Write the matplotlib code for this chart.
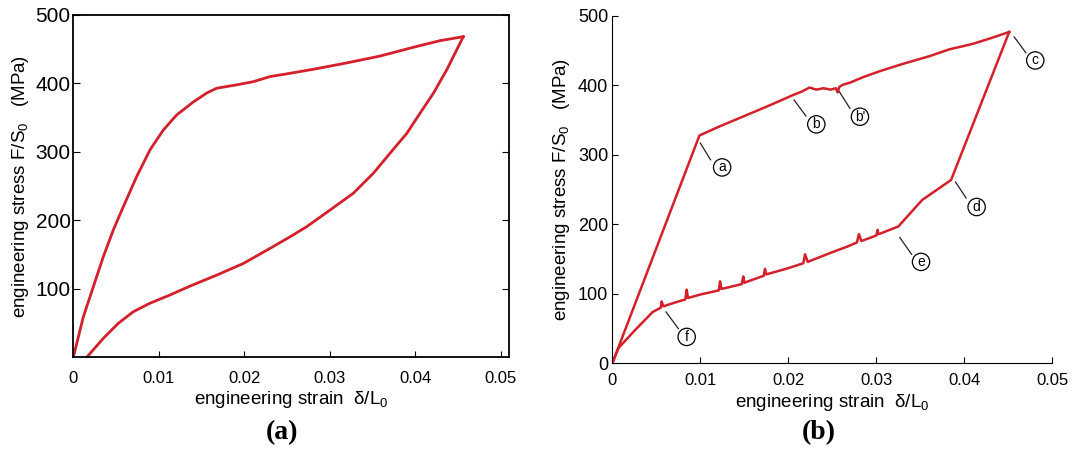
import matplotlib.pyplot as plt

plt.rcParams['font.family'] = ['Liberation Sans', 'DejaVu Sans']
plt.rcParams['mathtext.fontset'] = 'custom'
plt.rcParams['mathtext.rm'] = 'Liberation Sans'
plt.rcParams['mathtext.it'] = 'Liberation Sans'

RED = '#d4202a'

# (a) smooth loop: loading branch, then unloading branch
load_a_x = [0, 0.00117, 0.00234, 0.00351, 0.00468, 0.00585, 0.00741, 0.00897, 0.01053,
            0.01209, 0.01404, 0.0156, 0.01677, 0.01911, 0.02105, 0.0230, 0.02496,
            0.02807, 0.03198, 0.03587, 0.03977, 0.04289, 0.04561]
load_a_y = [0, 59, 103, 147, 186, 220, 264, 303, 332, 354, 373, 386, 393, 398, 402.6,
            410, 414, 420.7, 430, 440, 452.8, 462.5, 468.3]
unload_a_x = [0.04561, 0.04484, 0.04367, 0.04211, 0.04055, 0.039, 0.03704, 0.03509,
              0.03275, 0.03002, 0.0273, 0.02535, 0.0230, 0.01988, 0.01677, 0.01365,
              0.01131, 0.00897, 0.00702, 0.00526, 0.00351, 0.00157]
unload_a_y = [468.3, 449, 419.7, 385.6, 356.4, 327, 298, 268.8, 239.6, 215, 190.8, 176,
              159, 137, 120, 104, 91, 79, 66.6, 49.6, 27.7, 0]

# (b) serrated loop
load_b_x = [0, 0.0099, 0.0120, 0.0150, 0.0180, 0.0205, 0.0215, 0.0224, 0.0232, 0.0240,
            0.0248, 0.0254, 0.0256, 0.0258, 0.0262, 0.0270, 0.0285, 0.0305, 0.0330,
            0.0360, 0.0383, 0.0410, 0.0430, 0.0451]
load_b_y = [0, 328, 340, 356, 372, 386, 391, 397, 394, 396, 394, 396, 390, 398, 401, 404,
            412, 421, 431, 442, 452, 460, 468, 477]
unload_b_x = [0.0451, 0.0385, 0.0352, 0.0325, 0.0305, 0.0302, 0.03016, 0.0300, 0.0283,
              0.02802, 0.0278, 0.0267, 0.0250, 0.0222, 0.0219, 0.0217, 0.0200, 0.0175,
              0.01735, 0.0172, 0.0150, 0.01489, 0.0147, 0.0124, 0.01224, 0.0121, 0.0100,
              0.0086, 0.00845, 0.0083, 0.0070, 0.0058, 0.00561, 0.0055, 0.0046, 0.0026,
              0.0007, 0]
unload_b_y = [477, 264, 235, 197, 187, 186, 192, 184, 176, 186, 174, 168, 160, 146, 157,
              144, 137, 128, 136, 126, 116, 125, 114, 107, 118, 105, 99, 94, 106, 92, 87,
              82, 89, 80, 74, 48, 22, 0]

# circled labels of (b): text, position, leader start, leader end
labels_b = ['a', 'b', "b'", 'c', 'd', 'e', 'f']
label_x = [0.01248, 0.02318, 0.02814, 0.04806, 0.0414, 0.03508, 0.00845]
label_y = [282, 344, 355, 436, 225, 146, 38]
lead_x0 = [0.0100, 0.02066, 0.0258, 0.04566, 0.0390, 0.03267, 0.0061]
lead_y0 = [317, 379, 391, 470, 261, 181, 74]
lead_x1 = [0.01116, 0.0220, 0.0270, 0.0470, 0.0402, 0.0340, 0.0075]
lead_y1 = [293, 356, 367, 447, 238, 157, 50]

xticks = [0, 0.01, 0.02, 0.03, 0.04, 0.05]
xticklabels = ['0', '0.01', '0.02', '0.03', '0.04', '0.05']

fig = plt.figure(figsize=(10.75, 4.53), dpi=100)
ax1 = fig.add_axes([0.0682, 0.2113, 0.4056, 0.7556])
ax2 = fig.add_axes([0.5696, 0.198, 0.4093, 0.7667])

ylab = 'engineering stress F/S$_0$   (MPa)'
xlab = r'engineering strain  $\delta$/L$_0$'

# panel (a)
ax1.plot(load_a_x, load_a_y, color=RED, lw=2)
ax1.plot(unload_a_x, unload_a_y, color=RED, lw=2)
ax1.set_xlim(0, 0.051)
ax1.set_ylim(0, 500)
ax1.set_xticks(xticks)
ax1.set_xticklabels(xticklabels, fontsize=12)
ax1.set_yticks([100, 200, 300, 400, 500])
ax1.tick_params(axis='y', labelsize=15, direction='in', right=True, length=5, pad=2)
ax1.tick_params(axis='x', direction='in', length=4, pad=10)
ax1.set_xlabel(xlab, fontsize=13.5, labelpad=2)
ax1.set_ylabel(ylab, fontsize=13.5, labelpad=3)
for s in ax1.spines.values():
    s.set_linewidth(1.3)

# panel (b)
ax2.plot(load_b_x, load_b_y, color=RED, lw=1.8)
ax2.plot(unload_b_x, unload_b_y, color=RED, lw=1.8)
ax2.set_xlim(0, 0.05)
ax2.set_ylim(0, 500)
ax2.set_xticks(xticks)
ax2.set_xticklabels(xticklabels, fontsize=12)
ax2.set_yticks([0, 100, 200, 300, 400, 500])
ax2.tick_params(axis='y', labelsize=13, direction='in', length=4, pad=3)
ax2.tick_params(axis='x', direction='in', length=4, pad=7)
ax2.spines['top'].set_visible(False)
ax2.spines['right'].set_visible(False)
ax2.set_xlabel(xlab, fontsize=13.5, labelpad=3)
ax2.set_ylabel(ylab, fontsize=13.5, labelpad=4)

for t, lx, ly, x0, y0, x1, y1 in zip(labels_b, label_x, label_y, lead_x0, lead_y0, lead_x1, lead_y1):
    ax2.plot([x0, x1], [y0, y1], color='#222222', lw=0.9)
    ax2.text(lx, ly, t, fontsize=10, ha='center', va='center',
             bbox=dict(boxstyle='circle,pad=0.12', fc='white', ec='black', lw=0.9))

fig.text(0.262, 0.045, '(a)', fontsize=20, fontweight='bold', family='Liberation Serif',
         ha='center', va='center')
fig.text(0.762, 0.045, '(b)', fontsize=20, fontweight='bold', family='Liberation Serif',
         ha='center', va='center')

fig.savefig('out.png', dpi=100)
